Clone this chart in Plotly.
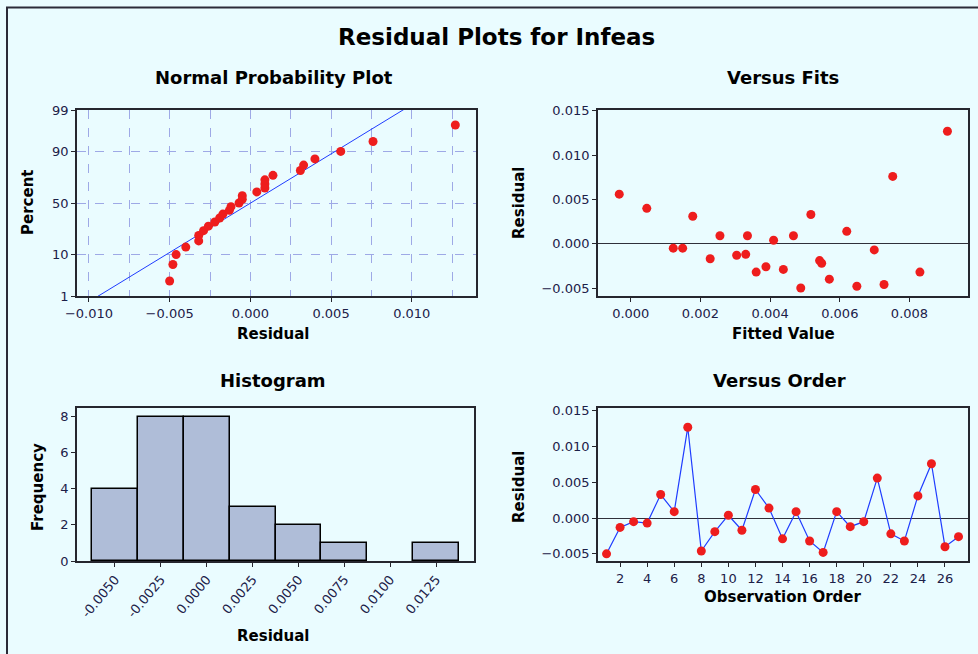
import plotly.graph_objects as go
from statistics import NormalDist
import numpy as np

# ---------------- data ----------------
observation_order = list(range(1, 28))
residuals = [-0.0050, -0.0013, -0.0005, -0.0007, 0.0033, 0.0009, 0.0127, -0.0046, -0.0019,
             0.0004, -0.0017, 0.0040, 0.0014, -0.0029, 0.0009, -0.0032, -0.0048, 0.0009,
             -0.0012, -0.0005, 0.0056, -0.0022, -0.0032, 0.0031, 0.0076, -0.0040, -0.0026]
fitted_values = [0.00488, 0.00304, 0.00122, 0.00699, 0.00517, 0.00256, 0.00909, 0.00727, 0.00542,
                 0.00410, 0.00228, 0.00046, 0.00620, 0.00438, 0.00335, 0.00360, 0.00649, 0.00467,
                 0.00330, 0.00149, -0.00033, 0.00548, 0.00830, 0.00178, 0.00752, 0.00570, 0.00388]
prob_tick_percents = [1, 10, 50, 90, 99]
hist_tick_vals = [-0.005, -0.0025, 0.0, 0.0025, 0.005, 0.0075, 0.01, 0.0125]
hist_tick_text = ["-0.0050", "-0.0025", "0.0000", "0.0025", "0.0050", "0.0075", "0.0100", "0.0125"]

# ---------------- derived (normal probability plot) ----------------
nd = NormalDist()
n = len(residuals)
sorted_res = sorted(residuals)
z_pts = [nd.inv_cdf((i - 0.3) / (n + 0.4)) for i in range(1, n + 1)]
mu = float(np.mean(residuals))
sd = float(np.std(residuals, ddof=1))
z_line = [-3.0, 3.0]
x_line = [mu + sd * z for z in z_line]
z_ticks = [nd.inv_cdf(p / 100) for p in prob_tick_percents]

W, H = 978, 654
def fx(x): return x / W
def fy(y): return 1 - y / H

BG = "#EAFCFF"
TICKC = "#1c2048"
RED = "#EE1D1D"
BLUE = "#1F3CFF"
FRAME = "#26262e"
GRID = "#9EA9E6"
FONT = "DejaVu Sans"

fig = go.Figure()

# Normal probability plot
fig.add_trace(go.Scatter(x=x_line, y=z_line, mode="lines", line=dict(color=BLUE, width=1),
                         xaxis="x", yaxis="y", showlegend=False, hoverinfo="skip"))
fig.add_trace(go.Scatter(x=sorted_res, y=z_pts, mode="markers",
                         marker=dict(color=RED, size=9), xaxis="x", yaxis="y", showlegend=False))
# Versus fits
fig.add_trace(go.Scatter(x=fitted_values, y=residuals, mode="markers",
                         marker=dict(color=RED, size=9), xaxis="x2", yaxis="y2", showlegend=False))
# Histogram
fig.add_trace(go.Histogram(x=residuals, xbins=dict(start=-0.00625, end=0.01375, size=0.0025),
                           marker=dict(color="#AFBDD8", line=dict(color="#000000", width=1.5)),
                           xaxis="x3", yaxis="y3", showlegend=False))
# Versus order
fig.add_trace(go.Scatter(x=observation_order, y=residuals, mode="lines+markers",
                         line=dict(color=BLUE, width=1.2), marker=dict(color=RED, size=9),
                         xaxis="x4", yaxis="y4", showlegend=False))

tickfont = dict(family=FONT, size=13, color=TICKC)
common = dict(showline=True, mirror=True, linecolor=FRAME, linewidth=1.8, ticks="outside",
              ticklen=4, tickcolor=FRAME, tickfont=tickfont, zeroline=False, showgrid=False,
              automargin=False)

fig.update_layout(
    width=W, height=H, margin=dict(l=0, r=0, t=0, b=0),
    paper_bgcolor=BG, plot_bgcolor=BG, bargap=0,
    xaxis=dict(domain=[fx(77), fx(476)], anchor="y", range=[-0.01074, 0.01398],
               tickmode="linear", tick0=-0.010, dtick=0.005, tickformat=".3f",
               showgrid=True, gridcolor=GRID, griddash="dash", gridwidth=1.2,
               minor=dict(tick0=0, dtick=0.0025, showgrid=True, gridcolor=GRID,
                          griddash="dash", gridwidth=1.2),
               **{k: v for k, v in common.items() if k != "showgrid"}),
    yaxis=dict(domain=[fy(296), fy(110)], anchor="x", range=[z_ticks[0], z_ticks[-1]],
               tickmode="array", tickvals=z_ticks, ticktext=[str(p) for p in prob_tick_percents],
               showgrid=True, gridcolor=GRID, griddash="dash", gridwidth=1.2,
               **{k: v for k, v in common.items() if k != "showgrid"}),
    xaxis2=dict(domain=[fx(598), fx(968)], anchor="y2", range=[-0.00094, 0.00968],
                tickmode="linear", tick0=0, dtick=0.002, tickformat=".3f", **common),
    yaxis2=dict(domain=[fy(296), fy(110)], anchor="x2", range=[-0.0059, 0.0151],
                tickmode="linear", tick0=0, dtick=0.005, tickformat=".3f",
                **{k: v for k, v in common.items() if k != "zeroline"},
                zeroline=True, zerolinecolor="#30303a", zerolinewidth=1.4),
    xaxis3=dict(domain=[fx(77), fx(474)], anchor="y3", range=[-0.00707, 0.01457],
                tickmode="array", tickvals=hist_tick_vals, ticktext=hist_tick_text,
                tickangle=-50, **common),
    yaxis3=dict(domain=[fy(561), fy(408)], anchor="x3", range=[0, 8.48],
                tickmode="linear", tick0=0, dtick=2, **common),
    xaxis4=dict(domain=[fx(598), fx(968)], anchor="y4", range=[0.37, 27.7],
                tickmode="linear", tick0=2, dtick=2, **common),
    yaxis4=dict(domain=[fy(561), fy(408)], anchor="x4", range=[-0.0060, 0.0154],
                tickmode="linear", tick0=0, dtick=0.005, tickformat=".3f",
                **{k: v for k, v in common.items() if k != "zeroline"},
                zeroline=True, zerolinecolor="#30303a", zerolinewidth=1.4),
)

# Outer frame
fig.add_shape(type="rect", xref="paper", yref="paper", x0=fx(7), x1=fx(1000), y0=fy(700), y1=fy(7.5),
              line=dict(color="#2b2b38", width=2), fillcolor="rgba(0,0,0,0)", layer="above")

def ann(text, x, y, size, angle=0):
    fig.add_annotation(text=f"<b>{text}</b>", x=fx(x), y=fy(y), xref="paper", yref="paper",
                       showarrow=False, xanchor="center", yanchor="middle", textangle=angle,
                       font=dict(family=FONT, size=size, color="#000000"))

ann("Residual Plots for Infeas", 496, 37, 23)
ann("Normal Probability Plot", 274, 78, 18)
ann("Versus Fits", 783, 78, 18)
ann("Histogram", 273, 381, 18)
ann("Versus Order", 779, 381, 18)
ann("Residual", 273, 334, 15)
ann("Fitted Value", 783, 334, 15)
ann("Residual", 273, 636, 15)
ann("Observation Order", 782, 597, 15)
ann("Percent", 28, 203, 15, -90)
ann("Residual", 519, 203, 15, -90)
ann("Frequency", 38, 487, 15, -90)
ann("Residual", 519, 487, 15, -90)

fig.write_html("out.html")
